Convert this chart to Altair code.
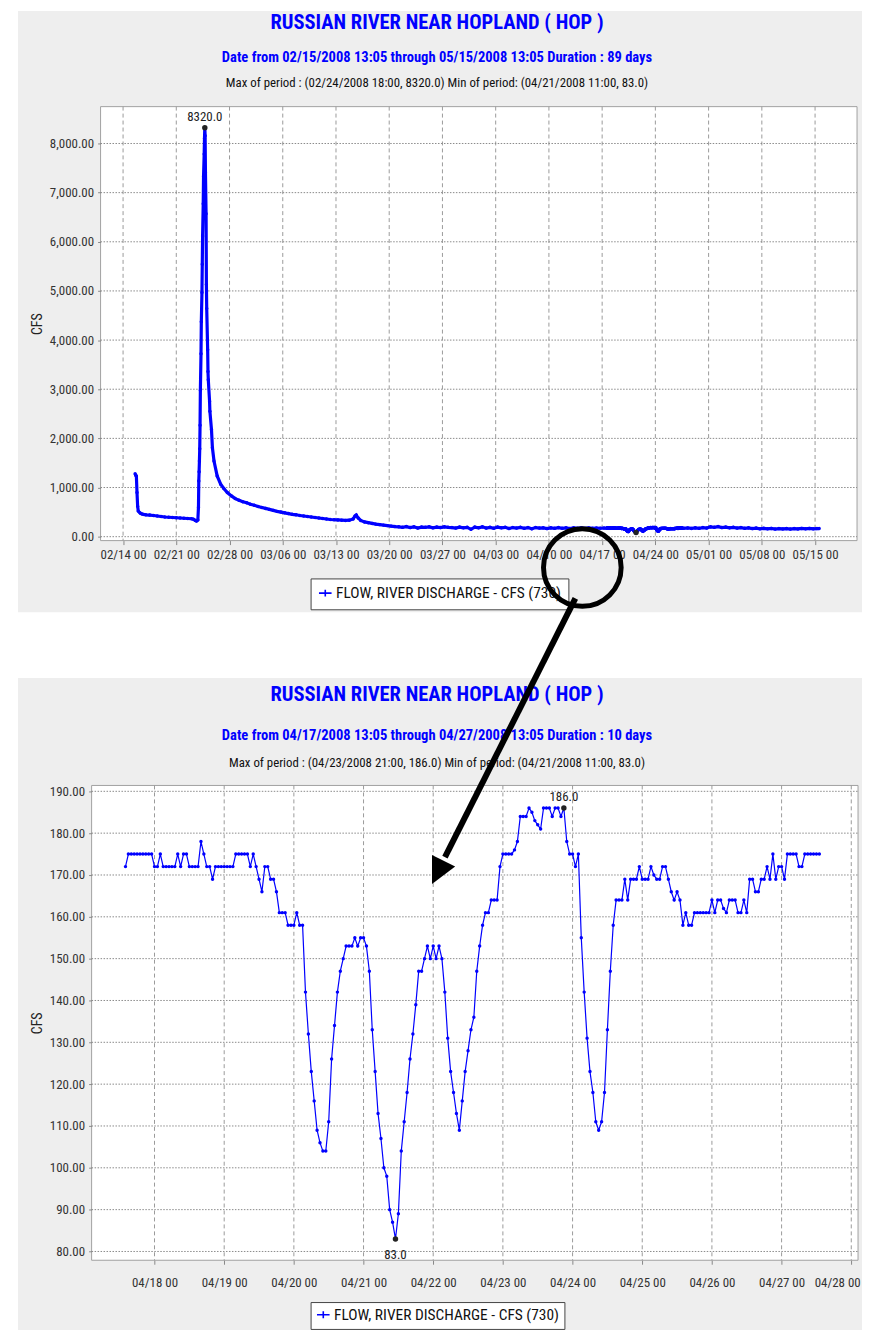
import altair as alt
import pandas as pd

BLUE = "#0000ff"
PANEL = "#eeeeee"
FONT = "Roboto Condensed, DejaVu Sans Condensed, sans-serif"

# ---------------- text ----------------
title_text = "RUSSIAN RIVER NEAR HOPLAND ( HOP )"
top_subtitle = "Date from 02/15/2008 13:05 through 05/15/2008 13:05 Duration : 89 days"
top_info = "Max of period : (02/24/2008 18:00, 8320.0)  Min of period: (04/21/2008 11:00,  83.0)"
low_subtitle = "Date from 04/17/2008 13:05 through 04/27/2008 13:05 Duration : 10 days"
low_info = "Max of period : (04/23/2008 21:00, 186.0)  Min of period: (04/21/2008 11:00,  83.0)"
series_label = ["FLOW, RIVER DISCHARGE - CFS (730)"]
y_title = "CFS"

# ---------------- data ----------------
# 10-day window: hourly readings from 04/17/2008 14:00 to 04/27/2008 13:00
zoom_start = "2008-04-17 14:00"
zoom_cfs = [
    172, 175, 175, 175, 175, 175, 175, 175, 175, 175,
    172, 172, 175, 172, 172, 172, 172, 172, 175, 172, 175, 175, 172, 172,
    172, 172, 178, 175, 172, 172, 169, 172, 172, 172,
    172, 172, 172, 172, 175, 175, 175, 175, 175, 172, 175, 172,
    169, 166, 172, 172, 169, 169, 166, 161, 161, 161, 158, 158,
    158, 161, 158, 158, 142, 132, 123, 116, 109, 106, 104, 104,
    111, 126, 134, 142, 147, 150, 153, 153, 153, 155, 153, 155,
    155, 153, 147, 133, 123, 113, 107, 100, 98, 90, 87, 83,
    89, 104, 111, 118, 126, 132, 139, 147, 147, 150, 153, 150,
    153, 150, 153, 150, 142, 131, 123, 118, 113, 109, 116, 123,
    128, 133, 136, 147, 153, 158, 161, 161, 164, 164, 164, 172,
    175, 175, 175, 175, 176, 178, 184, 184, 184, 186, 185, 183,
    182, 181, 186, 186, 186, 184, 186, 186, 184, 186, 178, 175,
    175, 172, 175, 155, 142, 131, 123, 118, 111, 109, 111, 118,
    133, 147, 158, 164, 164, 164, 169, 164, 169, 169, 169, 172,
    169, 169, 169, 172, 170, 169, 169, 172, 172, 169, 166, 164,
    166, 164, 158, 161, 158, 158, 161, 161, 161, 161, 161, 161,
    164, 161, 164, 164, 162, 161, 164, 164, 164, 161, 161, 164,
    161, 169, 169, 166, 166, 169, 169, 172, 169, 175, 169, 172,
    172, 169, 175, 175, 175, 175, 172, 172, 175, 175, 175, 175,
    175, 175,
]

# 89-day period: readings before the 10-day window
before_time = [
    "2008-02-15 14:00", "2008-02-15 16:00", "2008-02-15 18:00", "2008-02-15 20:00",
    "2008-02-15 22:00", "2008-02-16 00:00", "2008-02-16 06:00", "2008-02-16 12:00",
    "2008-02-16 18:00", "2008-02-17 00:00", "2008-02-17 12:00", "2008-02-18 00:00",
    "2008-02-18 12:00", "2008-02-19 00:00", "2008-02-19 12:00", "2008-02-20 00:00",
    "2008-02-20 12:00", "2008-02-21 00:00", "2008-02-21 12:00", "2008-02-22 00:00",
    "2008-02-22 12:00", "2008-02-23 00:00", "2008-02-23 06:00", "2008-02-23 12:00",
    "2008-02-23 16:00", "2008-02-23 20:00", "2008-02-23 22:00", "2008-02-23 23:00",
    "2008-02-24 00:00", "2008-02-24 01:00", "2008-02-24 02:00", "2008-02-24 03:00",
    "2008-02-24 04:00", "2008-02-24 06:00", "2008-02-24 07:00", "2008-02-24 09:00",
    "2008-02-24 10:00", "2008-02-24 11:00", "2008-02-24 13:00", "2008-02-24 14:00",
    "2008-02-24 16:00", "2008-02-24 17:00", "2008-02-24 18:00", "2008-02-24 19:00",
    "2008-02-24 20:00", "2008-02-24 22:00", "2008-02-24 23:00", "2008-02-25 00:00",
    "2008-02-25 03:00", "2008-02-25 04:00", "2008-02-25 05:00", "2008-02-25 09:00",
    "2008-02-25 10:00", "2008-02-25 15:00", "2008-02-25 18:00", "2008-02-25 23:00",
    "2008-02-26 09:00", "2008-02-26 20:00", "2008-02-27 06:00", "2008-02-27 17:00",
    "2008-02-28 06:00", "2008-02-28 18:00", "2008-02-29 06:00", "2008-02-29 18:00",
    "2008-03-01 06:00", "2008-03-01 18:00", "2008-03-02 06:00", "2008-03-02 18:00",
    "2008-03-03 06:00", "2008-03-03 18:00", "2008-03-04 06:00", "2008-03-04 18:00",
    "2008-03-05 06:00", "2008-03-05 18:00", "2008-03-06 06:00", "2008-03-06 18:00",
    "2008-03-07 06:00", "2008-03-07 18:00", "2008-03-08 06:00", "2008-03-08 18:00",
    "2008-03-09 06:00", "2008-03-09 18:00", "2008-03-10 06:00", "2008-03-10 18:00",
    "2008-03-11 06:00", "2008-03-11 18:00", "2008-03-12 06:00", "2008-03-12 18:00",
    "2008-03-13 06:00", "2008-03-13 18:00", "2008-03-14 06:00", "2008-03-14 18:00",
    "2008-03-15 06:00", "2008-03-15 12:00", "2008-03-15 16:00", "2008-03-15 22:00",
    "2008-03-16 06:00", "2008-03-16 18:00", "2008-03-17 06:00", "2008-03-17 18:00",
    "2008-03-18 06:00", "2008-03-18 18:00", "2008-03-19 06:00", "2008-03-19 18:00",
    "2008-03-20 06:00", "2008-03-20 18:00", "2008-03-21 06:00", "2008-03-21 18:00",
    "2008-03-22 06:00", "2008-03-22 18:00", "2008-03-23 06:00", "2008-03-23 18:00",
    "2008-03-24 06:00", "2008-03-24 18:00", "2008-03-25 06:00", "2008-03-25 18:00",
    "2008-03-26 06:00", "2008-03-26 18:00", "2008-03-27 06:00", "2008-03-27 18:00",
    "2008-03-28 06:00", "2008-03-28 18:00", "2008-03-29 06:00", "2008-03-29 18:00",
    "2008-03-30 06:00", "2008-03-30 18:00", "2008-03-31 06:00", "2008-03-31 18:00",
    "2008-04-01 06:00", "2008-04-01 18:00", "2008-04-02 06:00", "2008-04-02 18:00",
    "2008-04-03 06:00", "2008-04-03 18:00", "2008-04-04 06:00", "2008-04-04 18:00",
    "2008-04-05 06:00", "2008-04-05 18:00", "2008-04-06 06:00", "2008-04-06 18:00",
    "2008-04-07 06:00", "2008-04-07 18:00", "2008-04-08 06:00", "2008-04-08 18:00",
    "2008-04-09 06:00", "2008-04-09 18:00", "2008-04-10 06:00", "2008-04-10 18:00",
    "2008-04-11 06:00", "2008-04-11 18:00", "2008-04-12 06:00", "2008-04-12 18:00",
    "2008-04-13 06:00", "2008-04-13 18:00", "2008-04-14 06:00", "2008-04-14 18:00",
    "2008-04-15 06:00", "2008-04-15 18:00", "2008-04-16 06:00", "2008-04-16 18:00",
    "2008-04-17 06:00",
]
before_cfs = [
    1280, 1250, 1230, 900,
    620, 520, 480, 460,
    450, 445, 440, 430,
    420, 410, 400, 395,
    390, 385, 380, 375,
    370, 365, 355, 330,
    320, 340, 600, 1134,
    1323, 1539, 1789, 2269,
    2978, 3720, 4375, 4969,
    5543, 6117, 6772, 7332,
    7784, 8100, 8320, 8157,
    7413, 6569, 5131, 4645,
    3802, 3362, 3194, 2755,
    2552, 2181, 1809, 1539,
    1236, 1067, 980, 898,
    830, 775, 740, 710,
    690, 660, 640, 615,
    595, 575, 555, 535,
    515, 500, 485, 470,
    455, 445, 430, 420,
    410, 400, 390, 380,
    370, 360, 350, 345,
    340, 335, 330, 335,
    360, 420, 440, 380,
    330, 300, 285, 270,
    255, 245, 235, 225,
    215, 205, 200, 190,
    205, 185, 200, 175,
    195, 190, 200, 180,
    195, 185, 200, 190,
    185, 175, 195, 180,
    190, 150, 195, 180,
    200, 175, 190, 170,
    195, 180, 190, 165,
    185, 175, 190, 170,
    185, 160, 185, 175,
    180, 165, 180, 170,
    185, 170, 180, 165,
    180, 170, 178, 168,
    178, 170, 176, 172,
    175,
]

# 89-day period: readings after the 10-day window
after_time = [
    "2008-04-27 18:00", "2008-04-28 06:00", "2008-04-28 18:00", "2008-04-29 06:00",
    "2008-04-29 18:00", "2008-04-30 06:00", "2008-04-30 18:00", "2008-05-01 06:00",
    "2008-05-01 18:00", "2008-05-02 06:00", "2008-05-02 18:00", "2008-05-03 06:00",
    "2008-05-03 18:00", "2008-05-04 06:00", "2008-05-04 18:00", "2008-05-05 06:00",
    "2008-05-05 18:00", "2008-05-06 06:00", "2008-05-06 18:00", "2008-05-07 06:00",
    "2008-05-07 18:00", "2008-05-08 06:00", "2008-05-08 18:00", "2008-05-09 06:00",
    "2008-05-09 18:00", "2008-05-10 06:00", "2008-05-10 18:00", "2008-05-11 06:00",
    "2008-05-11 18:00", "2008-05-12 06:00", "2008-05-12 18:00", "2008-05-13 06:00",
    "2008-05-13 18:00", "2008-05-14 06:00", "2008-05-14 18:00", "2008-05-15 06:00",
    "2008-05-15 13:00",
]
after_cfs = [
    172, 178, 168, 180,
    170, 185, 175, 200,
    190, 205, 185, 195,
    180, 190, 175, 185,
    170, 180, 165, 175,
    160, 170, 160, 168,
    155, 165, 158, 165,
    155, 165, 158, 168,
    160, 168, 160, 165,
    165,
]

top_xticks = ["2008-02-14", "2008-02-21", "2008-02-28", "2008-03-06", "2008-03-13",
              "2008-03-20", "2008-03-27", "2008-04-03", "2008-04-10", "2008-04-17",
              "2008-04-24", "2008-05-01", "2008-05-08", "2008-05-15"]
top_yticks = [0, 1000, 2000, 3000, 4000, 5000, 6000, 7000, 8000]
low_xticks = ["2008-04-18", "2008-04-19", "2008-04-20", "2008-04-21", "2008-04-22",
              "2008-04-23", "2008-04-24", "2008-04-25", "2008-04-26", "2008-04-27",
              "2008-04-28"]
low_yticks = [80, 90, 100, 110, 120, 130, 140, 150, 160, 170, 180, 190]

top_marks_time = ["2008-02-24 18:00", "2008-04-21 11:00"]
top_marks_cfs = [8320.0, 83.0]
top_marks_text = ["8320.0", ""]
top_marks_dy = [-11, 14]
low_marks_time = ["2008-04-23 21:00", "2008-04-21 11:00"]
low_marks_cfs = [186.0, 83.0]
low_marks_text = ["186.0", "83.0"]
low_marks_dy = [-11, 16]

# ---------------- tables ----------------
zoom_df = pd.DataFrame({"time": pd.date_range(zoom_start, periods=len(zoom_cfs), freq="h"),
                        "cfs": zoom_cfs})
zoom_df["series"] = series_label[0]
top_df = pd.concat([
    pd.DataFrame({"time": pd.to_datetime(before_time), "cfs": before_cfs}),
    zoom_df[["time", "cfs"]],
    pd.DataFrame({"time": pd.to_datetime(after_time), "cfs": after_cfs}),
], ignore_index=True)
top_df["series"] = series_label[0]

top_mk = pd.DataFrame({"time": pd.to_datetime(top_marks_time), "cfs": top_marks_cfs,
                       "label": top_marks_text, "dy": top_marks_dy})
low_mk = pd.DataFrame({"time": pd.to_datetime(low_marks_time), "cfs": low_marks_cfs,
                       "label": low_marks_text, "dy": low_marks_dy})

one = pd.DataFrame({"k": [0]})


def dt(s):
    t = pd.Timestamp(s)
    return alt.DateTime(year=t.year, month=t.month, date=t.day, hours=t.hour, minutes=t.minute)


def txt(text, x, y, size, color, weight="normal"):
    return alt.Chart(one).mark_text(text=text, font=FONT, fontSize=size, color=color,
                                    fontWeight=weight, align="center", baseline="middle").encode(
        x=alt.value(x), y=alt.value(y))


def panel(df, mk, W, H, x0, xdom, xticks, yticks, ydom, yfmt, y_off, ytitle_x, xlab_pad,
          gray, subtitle, info, title_ys, leg_xy, leg_pad, line_w, pt_size, extra=None):
    common = dict(zindex=1, grid=False, domain=False, labelFont=FONT, labelFontSize=13,
                  labelColor="#333333", tickColor="#888888", labelOverlap=False)
    X = alt.X("time:T", scale=alt.Scale(domain=[dt(xdom[0]), dt(xdom[1])], range=[x0, W]),
              axis=alt.Axis(title=None, values=[dt(v) for v in xticks], format="%m/%d %H",
                            tickSize=4, labelPadding=xlab_pad, labelFlush=10,
                            labelFlushOffset=9, **common))
    Y = alt.Y("cfs:Q", scale=alt.Scale(domain=ydom, nice=False, zero=False),
              axis=alt.Axis(title=y_title, values=yticks, format=yfmt, tickSize=3, labelPadding=4,
                            offset=y_off, titleX=ytitle_x, titleY=H / 2, titleAngle=270,
                            titleAlign="center", titleBaseline="middle", titleFont=FONT,
                            titleFontSize=14, titleFontWeight="normal", titleColor="#222222",
                            **common))

    bg = alt.Chart(one).mark_rect(fill=PANEL).encode(
        x=alt.value(gray[0]), x2=alt.value(gray[1]), y=alt.value(gray[2]), y2=alt.value(gray[3]))
    plot_bg = alt.Chart(one).mark_rect(fill="white", stroke="#a0a0a0", strokeWidth=1).encode(
        x=alt.value(x0), x2=alt.value(W), y=alt.value(0), y2=alt.value(H))
    vgrid = alt.Chart(pd.DataFrame({"time": pd.to_datetime(xticks)})).mark_rule(
        color="#9a9a9a", strokeDash=[4, 3], strokeWidth=1).encode(x=X)
    hgrid = alt.Chart(pd.DataFrame({"cfs": yticks})).mark_rule(
        color="#8a8a8a", strokeDash=[1.5, 1.5], strokeWidth=1).encode(
        y=Y, x=alt.value(x0), x2=alt.value(W))
    line = alt.Chart(df).mark_line(strokeWidth=line_w).encode(
        x=X, y=Y,
        color=alt.Color("series:N", scale=alt.Scale(domain=series_label, range=[BLUE]),
                        legend=alt.Legend(orient="none", legendX=leg_xy[0], legendY=leg_xy[1],
                                          title=None, fillColor="white", strokeColor="#444444",
                                          padding=leg_pad, labelFont=FONT, labelFontSize=15.5,
                                          labelColor="#111111", labelLimit=400, labelOffset=3,
                                          symbolType="M-1,0H1M0,-0.55V0.55", symbolSize=160,
                                          symbolStrokeWidth=1.6, symbolStrokeColor=BLUE,
                                          symbolFillColor=BLUE, zindex=1)))
    pts = alt.Chart(df).mark_point(filled=True, size=pt_size, color=BLUE, opacity=1).encode(x=X, y=Y)
    mk_pts = alt.Chart(mk).mark_point(filled=True, size=30, color="#222222", shape="circle",
                                      opacity=1).encode(x=X, y=Y)
    cx = (gray[0] + gray[1]) / 2 - 3
    layers = [bg, plot_bg, vgrid, hgrid, line, pts, mk_pts]
    for i in range(len(mk)):
        if mk["label"].iloc[i]:
            layers.append(alt.Chart(mk.iloc[[i]]).mark_text(
                font=FONT, fontSize=13, color="#222222", dy=float(mk["dy"].iloc[i]),
                baseline="middle").encode(x=X, y=Y, text="label:N"))
    layers += [
        txt(title_text, cx, title_ys[0], 20.6, BLUE, "bold"),
        txt(subtitle, cx, title_ys[1], 14.6, BLUE, "bold"),
        txt(info, cx, title_ys[2], 12.9, "#111111"),
    ]
    if extra:
        layers += extra
    return alt.layer(*layers).properties(width=W, height=H)


# top panel: plot area at page (101,104) .. (861,540)
TW, TH = 760, 436
top = panel(top_df, top_mk, TW, TH, 0, ("2008-02-11 01:00", "2008-05-20 12:30"), top_xticks,
            top_yticks, [-80, 8750], ",.2f", 0, -63.5, 4,
            (-83, 765, -96, 508), top_subtitle, top_info, (-84, -49, -24), (211, 474), 7,
            3.2, 12)

# lower panel: view origin at page (101,786); plot frame spans page x 92 .. 862
LW, LH = 761, 477
circle = alt.Chart(one).mark_point(shape="circle", size=6084, filled=False, stroke="black",
                                   strokeWidth=5, opacity=1).encode(
    x=alt.value(484), y=alt.value(-219))
shaft = alt.Chart(one).mark_rule(color="black", strokeWidth=6).encode(
    x=alt.value(477), y=alt.value(-188), x2=alt.value(346), y2=alt.value(72))
head = alt.Chart(one).mark_point(shape="M0,0L-0.5,-1L0.5,-1Z", size=2704, filled=True,
                                 color="black", angle=26.5, opacity=1).encode(
    x=alt.value(333), y=alt.value(99))
extent = alt.Chart(one).mark_rect(opacity=0).encode(
    x=alt.value(0), x2=alt.value(10), y=alt.value(-300), y2=alt.value(0))

low = panel(zoom_df, low_mk, LW, LH, -9, ("2008-04-17 02:20", "2008-04-28 02:20"), low_xticks,
            low_yticks, [77.9, 191.4], ".2f", 9, -54.5, 12,
            (-83, 765, -108, 547), low_subtitle, low_info, (-91, -50, -23), (211, 519), 5,
            1.2, 12, extra=[extent, circle, shaft, head])

chart = alt.vconcat(top, low, spacing=-126).resolve_scale(
    x="independent", y="independent", color="independent").resolve_legend(
    color="independent").properties(
    padding={"left": 10, "top": 0, "right": 0, "bottom": 0}, background="white"
).configure_view(stroke=None)

chart.save("out.html", embed_options={"renderer": "svg", "actions": False})
